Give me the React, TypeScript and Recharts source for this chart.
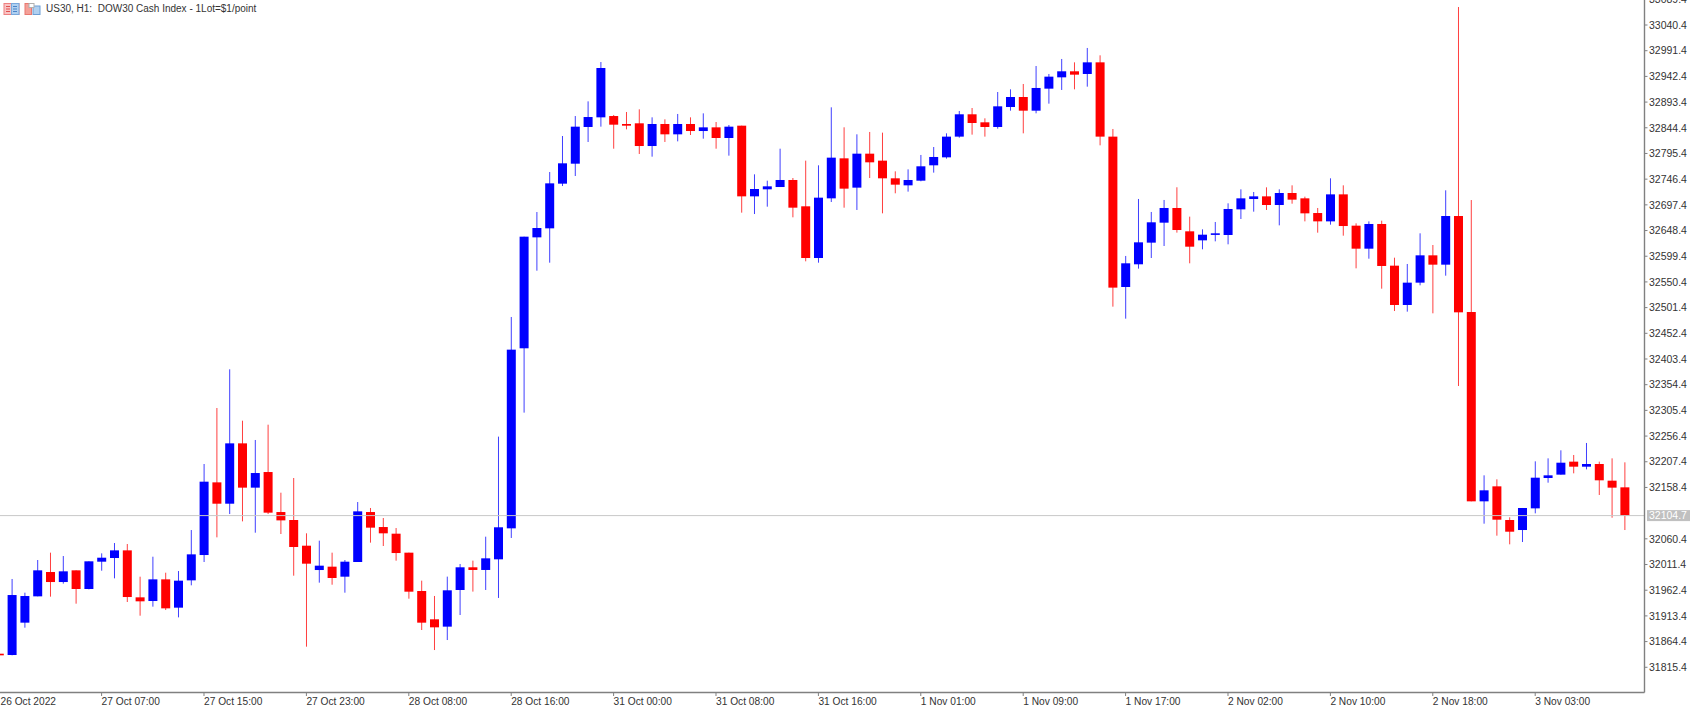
import { Bar, ComposedChart, ReferenceLine, XAxis, YAxis } from "recharts"

// US30 H1 candles. Oldest first.
const opens = [
  31841.3, 31838.8, 31900.5, 31950.7, 31997.1, 31978, 32000.3, 31964.7, 32016.8, 32023.8,
  32038.4, 31948.8, 31941.8, 31983.1, 31929.1, 31981.2, 32029.5, 32168.1, 32127.4, 32242.5,
  32158, 32187.8, 32111.5, 32096.3, 32047.3, 32000.9, 32007.3, 31988.2, 32016.2, 32111.5,
  32082.9, 32070.2, 32034, 31960.9, 31906.9, 31892.9, 31962.8, 32006.1, 32001, 32021.3,
  32080.4, 32423.8, 32635.4, 32652.6, 32737.8, 32775.9, 32845.9, 32864.3, 32866.8, 32851.6,
  32852.9, 32809.6, 32851.6, 32831.9, 32851.6, 32838.2, 32845.2, 32824.9, 32848.4, 32713.6,
  32727, 32731.4, 32744.8, 32694.6, 32596, 32709.8, 32786.1, 32730.2, 32795, 32781.7,
  32748, 32734.6, 32743.5, 32772.8, 32788, 32827.5, 32870.1, 32854.8, 32845.9, 32884,
  32903.1, 32877, 32919, 32940.6, 32952.1, 32947, 32969.2, 32827.5, 32540.7, 32584,
  32625.3, 32663.4, 32691.4, 32646.9, 32629.7, 32640.5, 32639.9, 32688.8, 32708.5, 32713.6,
  32697.1, 32720, 32709.8, 32681.8, 32665.9, 32717.4, 32657.7, 32613.8, 32660.9, 32581.4,
  32506.4, 32549, 32601.1, 32583.3, 32676.1, 32493, 32131.9, 32160.5, 32096.3, 32077.2,
  32118.5, 32176.4, 32182.8, 32207.6, 32198, 32203.1, 32171.3, 32158.6,
]
const highs = [
  31841.3, 31983.8, 31957.7, 32020, 32034, 32027.6, 32000.3, 32017.5, 32032.7, 32052.4,
  32050.5, 31988.2, 32026.3, 31995.8, 31999, 32077.2, 32203.1, 32309.9, 32383.7, 32285.7,
  32248.9, 32278.1, 32148.4, 32176.4, 32070.9, 32056.9, 32034, 32020, 32130.6, 32119.2,
  32100.1, 32081, 32034, 31980.6, 31951.4, 31988.3, 32012.4, 32018.8, 32064.5, 32255.3,
  32483.5, 32636.7, 32683.7, 32760, 32828.7, 32866.8, 32894.8, 32969.8, 32868.8, 32874.5,
  32879.6, 32864.3, 32860.5, 32870.7, 32864.3, 32871.9, 32855.4, 32849.7, 32848.4, 32755.6,
  32743.5, 32804.5, 32748.6, 32781.7, 32772.8, 32883.4, 32845.3, 32831.9, 32836.4, 32835.1,
  32761.3, 32765.1, 32792.5, 32807.7, 32833.8, 32876.4, 32882.1, 32862.4, 32912.6, 32917.7,
  32927.9, 32962.2, 32947, 32975.6, 32969.2, 32996.6, 32982.6, 32842.1, 32599.9, 32708.6,
  32683.8, 32706.7, 32730.9, 32674.9, 32650.7, 32664.7, 32700.3, 32727, 32721.9, 32730.8,
  32727, 32734.6, 32713, 32691.4, 32748, 32734.6, 32662.1, 32665.9, 32667.2, 32596.6,
  32584.6, 32643.1, 32620.8, 32725.1, 33074.7, 32706.6, 32181.5, 32173.9, 32101.4, 32119.2,
  32208.2, 32213.9, 32229.2, 32220.3, 32243.2, 32207.6, 32213.9, 32206.3,
]
const lows = [
  31838.2, 31838.2, 31890.9, 31950.7, 31950.1, 31974.9, 31936.7, 31964, 31999.6, 31985,
  31939.9, 31913.8, 31931, 31924.6, 31910.6, 31971.7, 32016.2, 32063.2, 32107.7, 32093.7,
  32072.1, 32107.7, 32069.6, 31990.1, 31854.7, 31976.8, 31972.9, 31957.7, 32016.2, 32053.1,
  32046.7, 32018.7, 31946.2, 31886.5, 31848.3, 31867.4, 31915.1, 31959.7, 31962.8, 31947.6,
  32062, 32301.1, 32571.8, 32587.1, 32733.3, 32752.4, 32817.3, 32846.5, 32804.5, 32841.4,
  32794.4, 32789.3, 32817.3, 32818.5, 32830.6, 32823.6, 32804.5, 32791.2, 32682.5, 32679.9,
  32693.9, 32731.4, 32673.6, 32589.7, 32587.1, 32702.8, 32692, 32687.6, 32748.6, 32681.2,
  32719.4, 32722.6, 32742.3, 32758.8, 32785.5, 32825.5, 32831.3, 32827.5, 32842.7, 32877,
  32833.8, 32872, 32890.4, 32916.5, 32917.7, 32922.8, 32810.9, 32503.2, 32480.3, 32575.7,
  32596, 32618.9, 32644.4, 32585.9, 32612.6, 32627.8, 32622.1, 32670.4, 32684.4, 32687.6,
  32658.3, 32699.6, 32665.9, 32644.3, 32659.6, 32638.6, 32576.3, 32594.7, 32537.5, 32494.9,
  32493.7, 32543.9, 32490.5, 32562.3, 32351.9, 32131.9, 32089.3, 32066.4, 32049.9, 32054.3,
  32109, 32167.5, 32182.8, 32185.3, 32192.9, 32144, 32100.7, 32077.2,
]
const closes = [
  31838.2, 31953.2, 31951.3, 32000.3, 31978, 31998.4, 31964.7, 32017.5, 32024.4, 32038.4,
  31949.4, 31941.2, 31983.1, 31927.8, 31980.6, 32030.8, 32169.4, 32127.4, 32242.5, 32158,
  32185.9, 32110.3, 32095.6, 32044.8, 32013, 32009.2, 31985.7, 32016.8, 32112.8, 32081.7,
  32070.9, 32033.3, 31959.6, 31900.5, 31891.6, 31962.2, 32006.1, 32001, 32023.2, 32082.4,
  32421.2, 32636.7, 32653.2, 32738.4, 32776.6, 32846.5, 32864.9, 32958.4, 32850.3, 32848.4,
  32809.6, 32851.6, 32831.9, 32851.6, 32838.2, 32845.2, 32824.9, 32846.5, 32713.6, 32727.6,
  32732.7, 32744.8, 32692, 32596, 32711.1, 32787.4, 32728.3, 32795, 32778.5, 32748,
  32735.9, 32744.8, 32770.9, 32788.7, 32827.5, 32870.1, 32853.5, 32845.9, 32885.3, 32903.1,
  32877, 32920.3, 32941.9, 32952.1, 32945.7, 32969.2, 32827.5, 32539.5, 32585.9, 32625.9,
  32664.1, 32691.4, 32649.4, 32617.6, 32640.5, 32643.1, 32689.5, 32709.8, 32713.6, 32697.1,
  32720, 32707.3, 32681.2, 32665.9, 32717.4, 32657, 32613.8, 32660.9, 32580.8, 32506.4,
  32549, 32601.1, 32583.3, 32676.1, 32492.4, 32131.9, 32152.9, 32096.9, 32074, 32119.2,
  32177, 32181.5, 32205.6, 32198, 32203.1, 32172, 32158, 32104.7,
]

const priceTicks = [
  31815.4, 31864.4, 31913.4, 31962.4, 32011.4, 32060.4, 32158.4, 32207.4, 32256.4, 32305.4,
  32354.4, 32403.4, 32452.4, 32501.4, 32550.4, 32599.4, 32648.4, 32697.4, 32746.4, 32795.4,
  32844.4, 32893.4, 32942.4, 32991.4, 33040.4, 33089.4,
]
const timeTickIndex = [0, 8, 16, 24, 32, 40, 48, 56, 64, 72, 80, 88, 96, 104, 112, 120]
const timeTickLabels = [
  "26 Oct 2022", "27 Oct 07:00", "27 Oct 15:00", "27 Oct 23:00", "28 Oct 08:00", "28 Oct 16:00",
  "31 Oct 00:00", "31 Oct 08:00", "31 Oct 16:00", "1 Nov 01:00", "1 Nov 09:00", "1 Nov 17:00",
  "2 Nov 02:00", "2 Nov 10:00", "2 Nov 18:00", "3 Nov 03:00",
]
const lastPrice = 32104.7

const chartData = opens.map((open, i) => ({
  index: i,
  open,
  high: highs[i],
  low: lows[i],
  close: closes[i],
  range: [lows[i], highs[i]],
}))

const FONT = "'Liberation Sans', sans-serif"
const UP = "#0000ff"
const DOWN = "#ff0000"

function Candle(props: any) {
  const { x, y, width, height, payload } = props
  const { open, high, low, close } = payload
  const color = close >= open ? UP : DOWN
  const perPoint = height / (high - low)
  const bodyTop = y + (high - Math.max(open, close)) * perPoint
  const bodyHeight = Math.max(Math.abs(open - close) * perPoint, 1.6)
  const mid = x + width / 2
  return (
    <g>
      <line x1={mid} x2={mid} y1={y} y2={y + height} stroke={color} strokeWidth={1} opacity={0.75} />
      <rect x={x} y={bodyTop} width={width} height={bodyHeight} fill={color} />
    </g>
  )
}

function TimeTick(props: any) {
  const { x, y, payload } = props
  const label = timeTickLabels[timeTickIndex.indexOf(payload.value)]
  return (
    <g>
      <line x1={x} x2={x} y1={y} y2={y + 3.5} stroke="#808080" />
      <text x={Math.max(x, 0.5)} y={y + 12.5} fontSize={10.2} fontFamily={FONT} fill="#333">
        {label}
      </text>
    </g>
  )
}

function LastPriceTag(props: any) {
  const { viewBox } = props
  const tagX = viewBox.x + viewBox.width + 2.5
  const tagY = viewBox.y
  return (
    <g>
      <rect x={tagX} y={tagY - 5.5} width={43} height={11} fill="#c0c0c0" />
      <text x={tagX + 2} y={tagY + 3.6} fontSize={10.5} fontFamily={FONT} fill="#fff">
        {lastPrice.toFixed(1)}
      </text>
    </g>
  )
}

function HeaderIcons() {
  return (
    <svg width={42} height={16} style={{ position: "absolute", left: 3, top: 2 }}>
      <rect x={1} y={1.5} width={15} height={11} fill="#f8c4c4" stroke="#ee8080" />
      <rect x={8.5} y={1.5} width={7.5} height={11} fill="#b0d0f0" stroke="#78a8dc" />
      <path d="M3 4.5h4M3 7h4M3 9.5h4" stroke="#e05050" />
      <path d="M10 4.5h4M10 7h4M10 9.5h4" stroke="#4a84c8" />
      <rect x={22} y={1.5} width={6.5} height={11} fill="#f4a098" stroke="#e87870" />
      <rect x={30} y={4} width={7} height={8.5} fill="#b0d0f0" stroke="#6c9ed4" />
      <rect x={26} y={1.5} width={5} height={4} fill="#fff" stroke="#b0b0b0" />
    </svg>
  )
}

export default function App() {
  return (
    <div style={{ position: "absolute", left: 0, top: 0, width: 1691, height: 710, background: "#fff", overflow: "hidden" }}>
      <ComposedChart
        width={1691}
        height={710}
        data={chartData}
        margin={{ top: 0, right: 0, bottom: 0, left: 0 }}
      >
        <XAxis
          type="number"
          dataKey="index"
          domain={[0.0625, 128.54]}
          allowDataOverflow
          ticks={timeTickIndex}
          interval={0}
          height={17.5}
          tickSize={0}
          tickMargin={0}
          tick={<TimeTick />}
          tickLine={false}
          axisLine={{ stroke: "#808080", strokeWidth: 1.4 }}
        />
        <YAxis
          type="number"
          orientation="right"
          domain={[31767.3, 33088.1]}
          allowDataOverflow
          ticks={priceTicks}
          interval={0}
          width={46.5}
          tickSize={3}
          tickMargin={1.5}
          tickFormatter={(v: number) => v.toFixed(1)}
          tick={{ fontSize: 10.5, fontFamily: FONT, fill: "#333" }}
          tickLine={{ stroke: "#808080" }}
          axisLine={{ stroke: "#808080", strokeWidth: 1.4 }}
        />
        <ReferenceLine y={lastPrice} stroke="#c8c8c8" strokeWidth={1} label={<LastPriceTag />} />
        <Bar dataKey="range" barSize={9} shape={<Candle />} isAnimationActive={false} />
      </ComposedChart>
      <HeaderIcons />
      <div
        style={{
          position: "absolute",
          left: 46,
          top: 3,
          fontFamily: FONT,
          fontSize: 10,
          lineHeight: "12px",
          color: "#333",
          whiteSpace: "pre",
        }}
      >
        US30, H1:  DOW30 Cash Index - 1Lot=$1/point
      </div>
    </div>
  )
}
